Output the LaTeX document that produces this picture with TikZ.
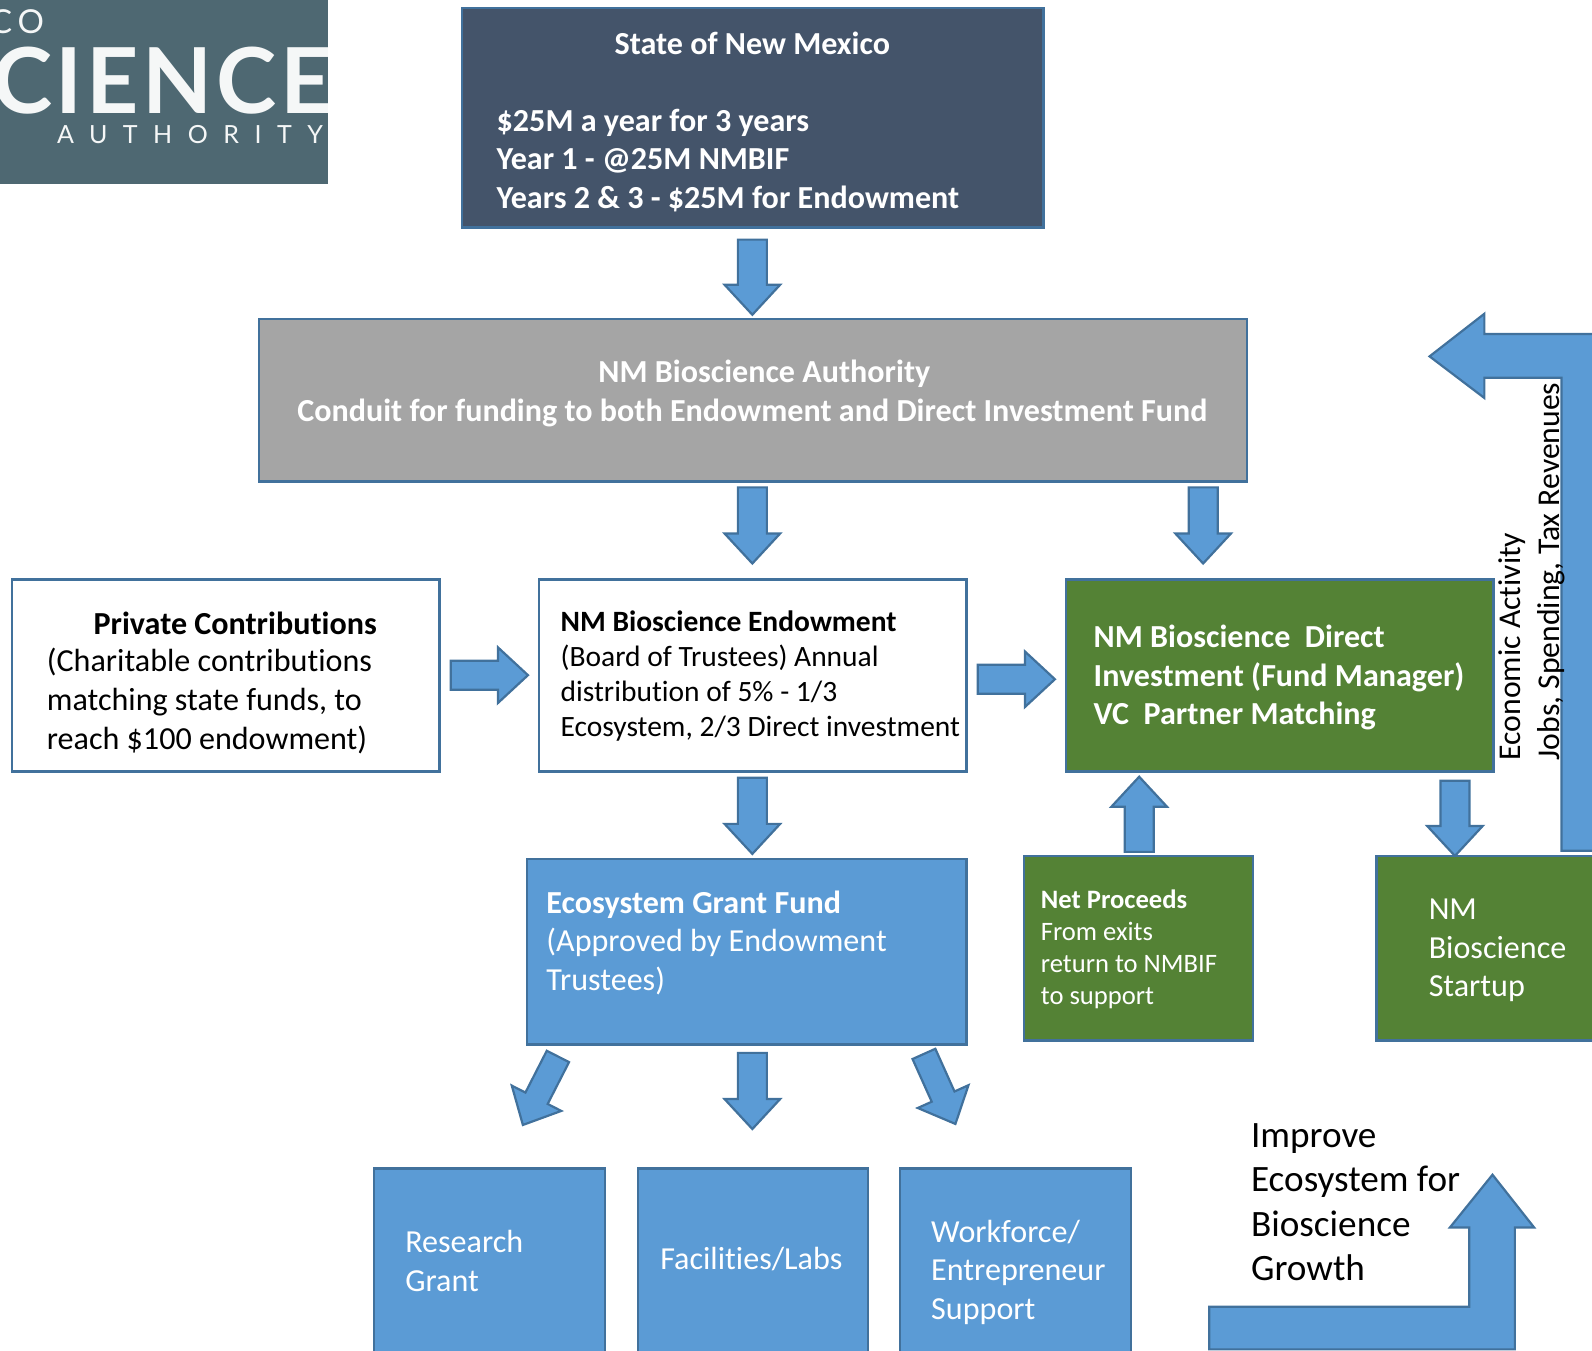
\documentclass[tikz,border=0pt]{standalone}
\usepackage{fontspec}
\setmainfont{Carlito}[Ligatures=NoCommon]
\newfontfamily\logofont{Lato}
\usetikzlibrary{calc,fit}
\definecolor{edgeblue}{HTML}{41719C}
\definecolor{fillblue}{HTML}{5B9BD5}
\definecolor{slate}{HTML}{44546A}
\definecolor{midgrey}{HTML}{A5A5A5}
\definecolor{leaf}{HTML}{548235}
\definecolor{logobg}{HTML}{4E6872}
\definecolor{logotx}{HTML}{F5F7F7}
\newcommand\fbig{\fontsize{32.1}{38.6}\selectfont}
\newcommand\fmid{\fontsize{29.5}{35.2}\selectfont}
\newcommand\fsmall{\fontsize{26.6}{32.2}\selectfont}
\newcommand\fhuge{\fontsize{37.2}{44.4}\selectfont}
\newcommand\fside{\fontsize{31.7}{38.6}\selectfont}
\tikzset{
  x=1.0153pt,y=-1.0153pt,
  boxbase/.style={draw=edgeblue,line width=2.6pt,inner sep=0pt},
  slatebox/.style={boxbase,fill=slate},
  greybox/.style={boxbase,fill=midgrey},
  whitebox/.style={boxbase,fill=white},
  greenbox/.style={boxbase,fill=leaf},
  bluebox/.style={boxbase,fill=fillblue},
  arrowshape/.style={draw=edgeblue,line width=2.2pt,fill=fillblue,line join=miter},
  lbl/.style={inner sep=0pt,anchor=west,align=left},
  wlbl/.style={lbl,text=white},
}
% block arrow: from, to, half shaft, half head, head length
\newcommand\blockarrow[5]{%
  \coordinate (neck) at ($(#2)!#5!(#1)$);
  \draw[arrowshape] ($(#1)!#3!90:(#2)$) -- ($(neck)!#3!90:(#2)$) -- ($(neck)!#4!90:(#2)$) -- (#2)
    -- ($(neck)!#4!-90:(#2)$) -- ($(neck)!#3!-90:(#2)$) -- ($(#1)!#3!-90:(#2)$) -- cycle;}
\begin{document}
\begin{tikzpicture}
\useasboundingbox (0,0) rectangle (1568,1330.6);
\clip (0,0) rectangle (1568,1330.6);
% logo
\begin{scope}
  \fill[logobg] (0,0) rectangle (323,181);
  \clip (0,0) rectangle (323,181);
  \node[inner sep=0pt,anchor=west,text=logotx,font=\logofont\fontsize{33}{33}\selectfont] (logoa) at (-10,21) {\addfontfeature{LetterSpace=18}CO};
  \node[inner sep=0pt,anchor=west,text=logotx,font=\logofont\bfseries\fontsize{91}{91}\selectfont] (logob) at (-8,79) {\addfontfeature{LetterSpace=4}CIENCE};
  \node[inner sep=0pt,anchor=west,text=logotx,font=\logofont\fontsize{25}{25}\selectfont] (logoc) at (56,133) {\addfontfeature{LetterSpace=62}AUTHORITY};
\end{scope}
% boxes
\node[slatebox,fit={(455,8) (1028,224)}] (state) {};
\node[greybox,fit={(255,314) (1228,474)}] (authority) {};
\node[whitebox,fit={(12,571) (433,760)}] (private) {};
\node[whitebox,fit={(531,571) (952,760)}] (endow) {};
\node[greenbox,fit={(1050,571) (1471,760)}] (direct) {};
\node[bluebox,fit={(519,846) (952,1029)}] (eco) {};
\node[greenbox,fit={(1008.5,843) (1234,1025)}] (net) {};
\node[greenbox,fit={(1355.5,843) (1590,1025)}] (startup) {};
\node[bluebox,fit={(368.5,1151) (596,1350)}] (research) {};
\node[bluebox,fit={(628.5,1151) (855,1350)}] (labs) {};
\node[bluebox,fit={(886.5,1151) (1114,1350)}] (workforce) {};
% straight block arrows
\coordinate (a1s) at (741,236); \coordinate (a1e) at (741,310);
\coordinate (a2s) at (741,480); \coordinate (a2e) at (741,555);
\coordinate (a3s) at (1185,480); \coordinate (a3e) at (1185,555);
\coordinate (a4s) at (444,665); \coordinate (a4e) at (520,665);
\coordinate (a5s) at (963,669); \coordinate (a5e) at (1039,669);
\coordinate (a6s) at (741,766); \coordinate (a6e) at (741,841);
\coordinate (a7s) at (1122,839); \coordinate (a7e) at (1122,765);
\coordinate (a8s) at (1433,769); \coordinate (a8e) at (1433,843);
\coordinate (a9s) at (741,1037); \coordinate (a9e) at (741,1112);
\coordinate (a10s) at (549.5,1040.5); \coordinate (a10e) at (515,1108);
\coordinate (a11s) at (910,1038); \coordinate (a11e) at (941,1107);
\blockarrow{a1s}{a1e}{14.5pt}{27.8pt}{30pt}
\blockarrow{a2s}{a2e}{14.5pt}{27.8pt}{30pt}
\blockarrow{a3s}{a3e}{14.5pt}{27.8pt}{30pt}
\blockarrow{a4s}{a4e}{14.5pt}{27.8pt}{30pt}
\blockarrow{a5s}{a5e}{14.5pt}{27.8pt}{30pt}
\blockarrow{a6s}{a6e}{14.5pt}{27.8pt}{30pt}
\blockarrow{a7s}{a7e}{14.5pt}{27.8pt}{30pt}
\blockarrow{a8s}{a8e}{14.5pt}{27.8pt}{30pt}
\blockarrow{a9s}{a9e}{14.5pt}{27.8pt}{30pt}
\blockarrow{a10s}{a10e}{12.5pt}{27.8pt}{30pt}
\blockarrow{a11s}{a11e}{12.5pt}{27.8pt}{30pt}
% bent arrows
\draw[arrowshape] (1408,351) -- (1462,309) -- (1462,329) -- (1590,329) -- (1590,838) -- (1538,838)
  -- (1538,372) -- (1462,372) -- (1462,392) -- cycle;
\draw[arrowshape] (1191,1287) -- (1447,1287) -- (1447,1209) -- (1428,1209) -- (1470,1157) -- (1511,1209)
  -- (1492,1209) -- (1492,1329) -- (1191,1329) -- cycle;
% labels
\node[wlbl,font=\fbig\bfseries,anchor=center] (t1) at (741,43) {State of New Mexico};
\node[wlbl,font=\fbig\bfseries] (t2) at (489,158) {\$25M a year for 3 years\\Year 1 - @25M NMBIF\\Years 2 \& 3 - \$25M for Endowment};
\node[wlbl,font=\fbig\bfseries,anchor=center,align=center] (t3) at (741,387.5) {\hspace*{24pt}NM Bioscience Authority\\Conduit for funding to both Endowment and Direct Investment Fund};
\node[lbl,font=\fbig\bfseries] (t4) at (92,614) {Private Contributions};
\node[lbl,font=\fbig] (t5) at (46,690.5) {(Charitable contributions\\matching state funds, to\\reach \$100 endowment)};
\node[lbl,font=\fmid] (t6) at (552,666) {\textbf{NM Bioscience Endowment}\\(Board of Trustees) Annual\\distribution of 5\% - 1/3\\Ecosystem, 2/3 Direct investment};
\node[wlbl,font=\fbig\bfseries] (t7) at (1077,667.5) {NM Bioscience~ Direct\\Investment (Fund Manager)\\VC~ Partner Matching};
\node[wlbl,font=\fbig] (t8) at (538,928.5) {\textbf{Ecosystem Grant Fund}\\(Approved by Endowment\\Trustees)};
\node[wlbl,font=\fsmall] (t9) at (1025,935) {\textbf{Net Proceeds}\\From exits\\return to NMBIF\\to support};
\node[wlbl,font=\fbig] (t10) at (1407,936) {NM\\Bioscience\\Startup};
\node[wlbl,font=\fbig] (t11) at (399,1242) {Research\\Grant};
\node[wlbl,font=\fbig,anchor=center] (t12) at (740,1240) {Facilities/Labs};
\node[wlbl,font=\fbig] (t13) at (917,1253) {Workforce/\\Entrepreneur\\Support};
\node[lbl,font=\fhuge] (t14) at (1232,1184) {Improve\\Ecosystem for\\Bioscience\\Growth};
\node[lbl,font=\fside,rotate=90] (t15) at (1508.5,749) {Economic Activity\\Jobs, Spending, Tax Revenues};
\end{tikzpicture}
\end{document}
